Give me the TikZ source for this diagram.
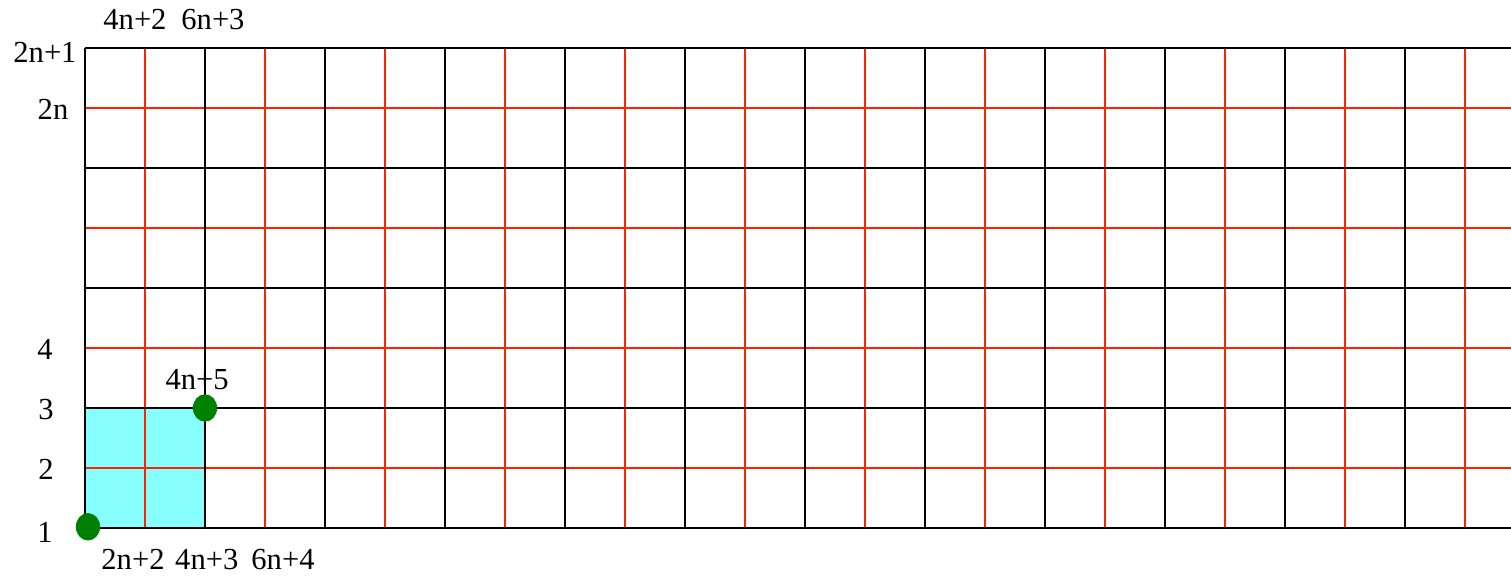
\documentclass[tikz,border=0pt]{standalone}
\usepackage{fontspec}
\setmainfont{Liberation Serif}
\usetikzlibrary{shapes.geometric}

\begin{document}
\begin{tikzpicture}[x=1cm, y=1cm]
	\tikzset{ligne/.style={black, line width=1pt},
	ligneRouge/.style={color={rgb,255:red,255;green,34;blue,0}, line width=0.95pt},
	etiquette/.style={inner sep=0pt, font=\fontsize{14.5}{16}\selectfont},
	point/.style={ellipse, fill={rgb,255:red,0;green,128;blue,0}, minimum width=11.5pt, minimum height=13pt, inner sep=0pt}};

	\useasboundingbox (-1.4167,-0.8167) rectangle (23.767,8.8);

	\fill[color={rgb,255:red,136;green,255;blue,255}] (0,0) rectangle (2,2);

	\foreach \x in {1,3,...,23}{
		\draw[ligneRouge] (\x,0) -- (\x,8);
	}
	\foreach \y in {1,3,5,7}{
		\draw[ligneRouge] (0,\y) -- (23.767,\y);
	}
	\foreach \x in {0,2,...,22}{
		\draw[ligne] (\x,0) -- (\x,8);
	}
	\foreach \y in {0,2,4,6,8}{
		\draw[ligne] (0,\y) -- (23.767,\y);
	}

	\foreach \name/\x/\y/\txt in {l-a/-0.667/7.93/2n+1, l-b/-0.533/6.97/2n, l-c/-0.667/2.97/4,
		l-d/-0.65/1.97/3, l-e/-0.65/0.97/2, l-f/-0.667/-0.07/1,
		h-a/0.833/8.47/4n+2, h-b/2.133/8.47/6n+3,
		b-a/0.8/-0.53/2n+2, b-b/2.03/-0.53/4n+3, b-c/3.3/-0.53/6n+4,
		m-a/1.87/2.48/4n+5}{
		\node[etiquette] (\name) at (\x,\y) {\txt};
	}

	\node[point] (p1) at (0.05,0.02) {};
	\node[point] (p2) at (2,2) {};

\end{tikzpicture}
\end{document}
